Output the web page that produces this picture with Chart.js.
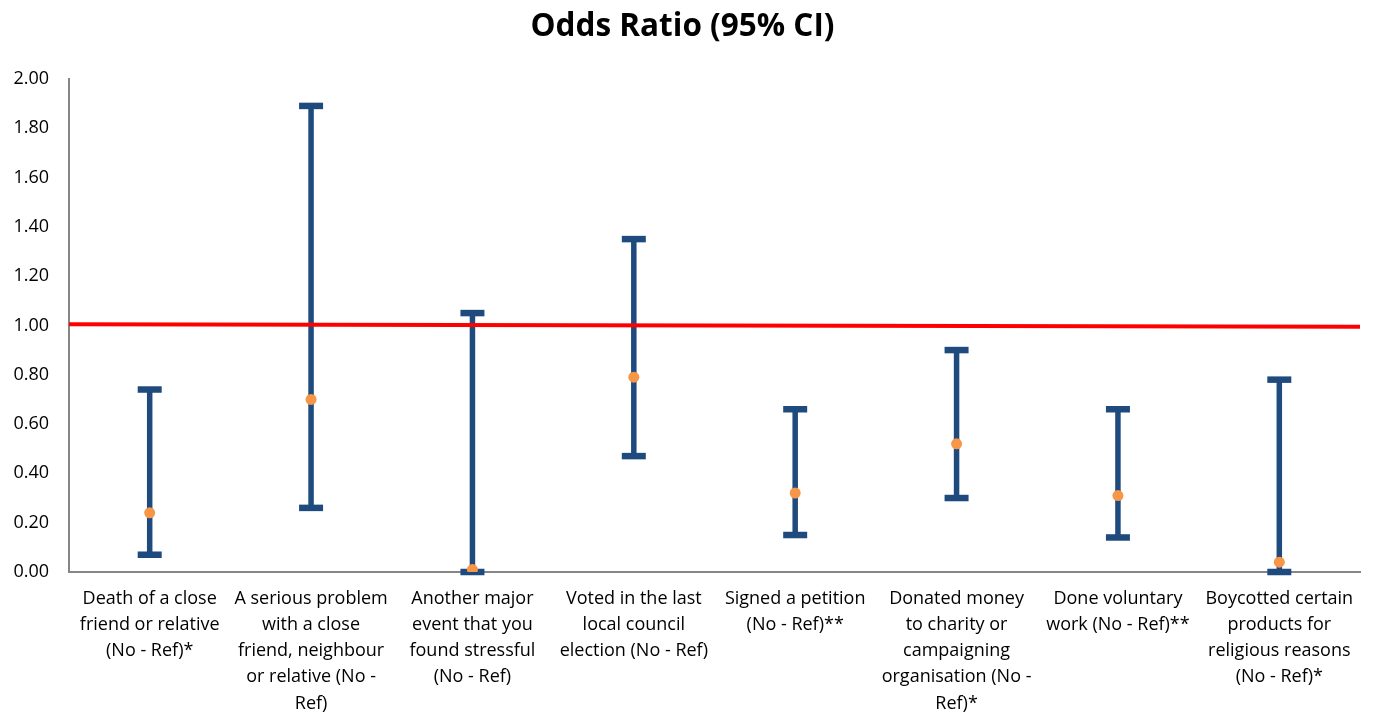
<!DOCTYPE html>
<html>
<head>
<meta charset="utf-8">
<script src="https://cdn.jsdelivr.net/npm/chart.js@4/dist/chart.umd.min.js"></script>
<style>
  html, body { margin: 0; padding: 0; background: #fff; }
  #wrap { width: 1374px; height: 717px; position: relative; }
</style>
</head>
<body>
<div id="wrap"><canvas id="oddsChart"></canvas></div>
<script>
/* chart data */
const categories = [
  ["Death of a close", "friend or relative", "(No - Ref)*"],
  ["A serious problem", "with a close", "friend, neighbour", "or relative (No -", "Ref)"],
  ["Another major", "event that you", "found stressful", "(No - Ref)"],
  ["Voted in the last", "local council", "election (No - Ref)"],
  ["Signed a petition", "(No - Ref)**"],
  ["Donated money", "to charity or", "campaigning", "organisation (No -", "Ref)*"],
  ["Done voluntary", "work (No - Ref)**"],
  ["Boycotted certain", "products for", "religious reasons", "(No - Ref)*"]
];

const oddsRatios = [0.24, 0.70, 0.01, 0.79, 0.32, 0.52, 0.31, 0.04];
const lowerCI = [0.07, 0.26, 0.00, 0.47, 0.15, 0.30, 0.14, 0.00];
const upperCI = [0.74, 1.89, 1.05, 1.35, 0.66, 0.90, 0.66, 0.78];

const yTicks = [0, 0.2, 0.4, 0.6, 0.8, 1.0, 1.2, 1.4, 1.6, 1.8, 2.0];

/* reference line at OR = 1 (drawn slightly off level, like the original) */
const refLineStart = 1.005;
const refLineEnd = 0.995;

const barColor = "#1F4A7D";
const pointColor = "#F79646";

/* error bars + reference line plugin */
const errorBarPlugin = {
  id: "errorBars",
  beforeDatasetsDraw(chart) {
    const ctx = chart.ctx;
    const xScale = chart.scales.x;
    const yScale = chart.scales.y;

    ctx.save();
    ctx.strokeStyle = barColor;
    ctx.lineCap = "butt";

    lowerCI.forEach((low, i) => {
      const x = xScale.getPixelForValue(i);
      const yLow = yScale.getPixelForValue(low);
      const yHigh = yScale.getPixelForValue(upperCI[i]);

      ctx.lineWidth = 5.5;
      ctx.beginPath();
      ctx.moveTo(x, yLow);
      ctx.lineTo(x, yHigh);
      ctx.stroke();

      ctx.lineWidth = 6.5;
      [yLow, yHigh].forEach(y => {
        ctx.beginPath();
        ctx.moveTo(x - 12, y);
        ctx.lineTo(x + 12, y);
        ctx.stroke();
      });
    });

    ctx.restore();
  },
  afterDatasetsDraw(chart) {
    const ctx = chart.ctx;
    const area = chart.chartArea;
    const yScale = chart.scales.y;

    ctx.save();
    ctx.strokeStyle = "#FF0000";
    ctx.lineWidth = 4;
    ctx.beginPath();
    ctx.moveTo(area.left, yScale.getPixelForValue(refLineStart));
    ctx.lineTo(area.right, yScale.getPixelForValue(refLineEnd));
    ctx.stroke();
    ctx.restore();
  }
};

const oddsChart = new Chart(document.querySelector("#oddsChart"), {
  type: "line",
  data: {
    labels: categories,
    datasets: [
      {
        label: "Odds Ratio",
        data: oddsRatios,
        showLine: false,
        pointRadius: 5.5,
        pointHoverRadius: 5.5,
        pointBackgroundColor: pointColor,
        pointBorderWidth: 0
      }
    ]
  },
  options: {
    responsive: true,
    maintainAspectRatio: false,
    animation: false,
    layout: {
      padding: { left: 5, right: 14, top: 0, bottom: 0 }
    },
    plugins: {
      legend: { display: false },
      tooltip: { enabled: false },
      title: {
        display: true,
        text: "Odds Ratio (95% CI)",
        color: "#000",
        font: { family: "Open Sans", size: 31.5, weight: "bold" },
        padding: { top: 8, bottom: 33 }
      }
    },
    scales: {
      x: {
        offset: true,
        grid: { display: false, drawTicks: false },
        border: { color: "#868686", width: 2 },
        // fixed box so the axis line lands where the original has it
        afterFit(scale) {
          scale.paddingLeft = 0;
          scale.paddingRight = 0;
          scale.height = 145;
        },
        ticks: {
          color: "#000",
          maxRotation: 0,
          autoSkip: false,
          padding: 14,
          font: { family: "Open Sans", size: 18, lineHeight: 1.45 }
        }
      },
      y: {
        min: 0,
        max: 2,
        afterBuildTicks(axis) {
          axis.ticks = yTicks.map(v => ({ value: v }));
        },
        afterFit(axis) {
          axis.width = 64;
        },
        grid: { display: false, drawTicks: false },
        border: { color: "#868686", width: 2 },
        ticks: {
          color: "#000",
          padding: 20,
          font: { family: "Open Sans", size: 18 },
          callback: value => value.toFixed(2)
        }
      }
    }
  },
  plugins: [errorBarPlugin]
});
</script>
</body>
</html>
